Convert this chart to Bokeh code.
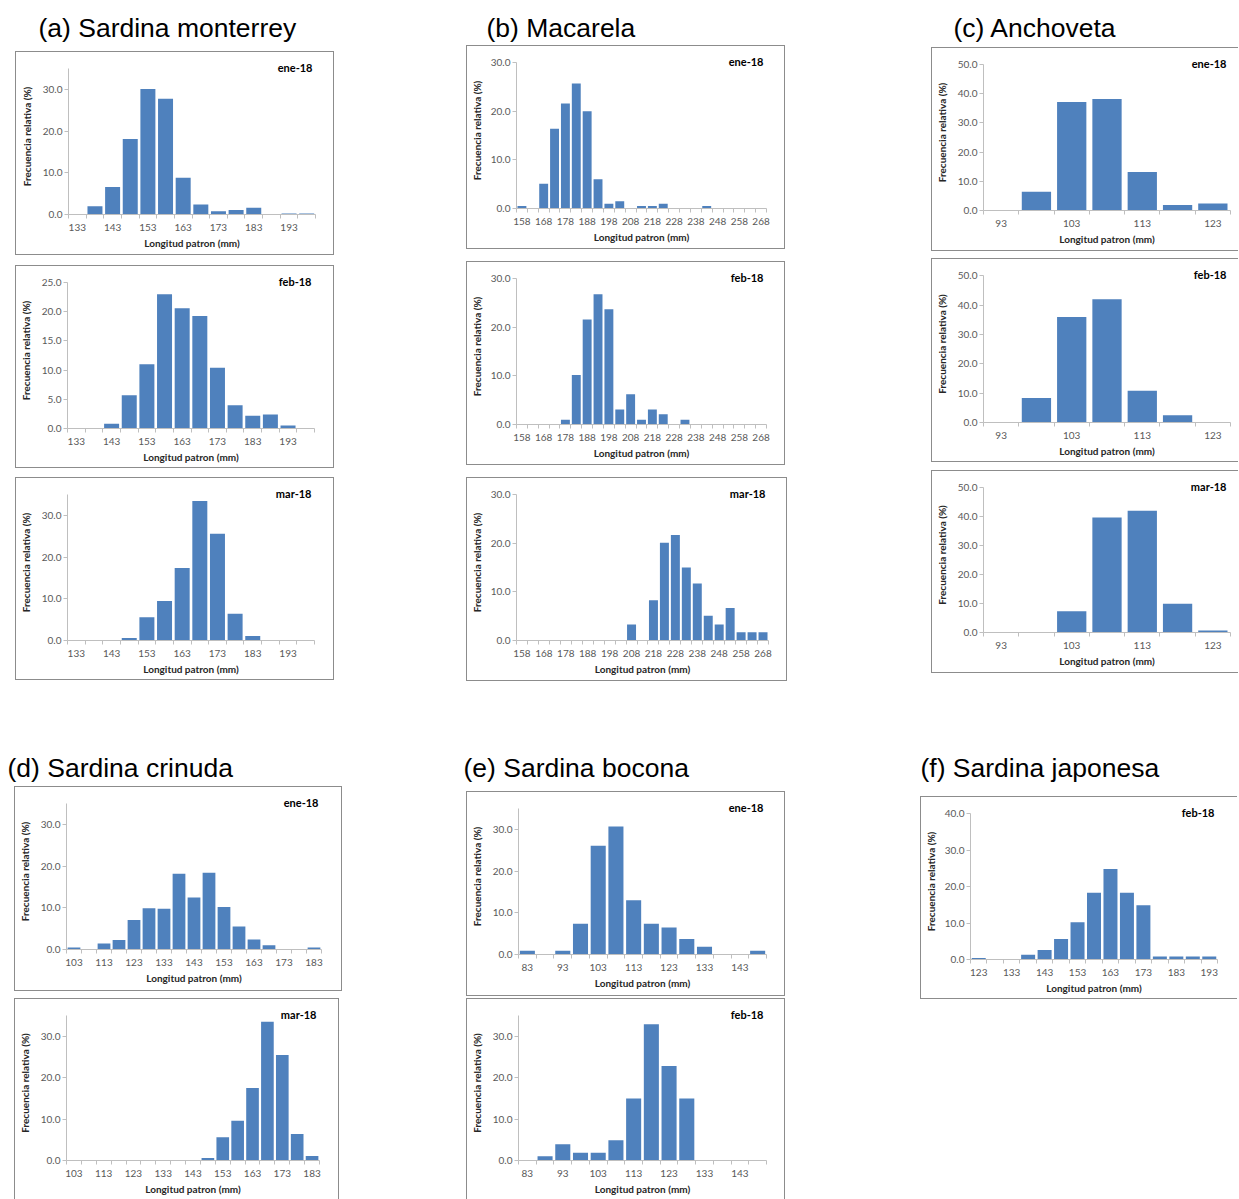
from bokeh.plotting import figure
from bokeh.layouts import row, column
from bokeh.models import Range1d, FixedTicker, NumeralTickFormatter, Label, Spacer
from bokeh.embed import file_html
from bokeh.resources import INLINE

# ---------------- data (relative frequency %, by 5 mm length class) ----------------
a_cats = [133, 138, 143, 148, 153, 158, 163, 168, 173, 178, 183, 188, 193, 198]
a_ene = [0, 2.0, 6.6, 18.1, 30.1, 27.8, 8.8, 2.4, 0.8, 1.1, 1.6, 0, 0.25, 0.25]
a_feb = [0, 0, 0.8, 5.7, 11.0, 23.0, 20.6, 19.3, 10.4, 4.0, 2.2, 2.4, 0.5, 0]
a_mar = [0, 0, 0, 0.6, 5.6, 9.5, 17.4, 33.5, 25.6, 6.4, 1.1, 0, 0, 0]

b_cats = [158, 163, 168, 173, 178, 183, 188, 193, 198, 203, 208, 213, 218, 223,
          228, 233, 238, 243, 248, 253, 258, 263, 268]
b_ene = [0.5, 0, 5.1, 16.4, 21.6, 25.7, 20.0, 6.0, 1.0, 1.5, 0, 0.5, 0.5, 1.0,
         0, 0, 0, 0.5, 0, 0, 0, 0, 0]
b_feb = [0, 0, 0, 0, 1.0, 10.2, 21.6, 26.8, 23.7, 3.1, 6.2, 1.0, 3.1, 2.1,
         0, 1.0, 0, 0, 0, 0, 0, 0, 0]
b_mar = [0, 0, 0, 0, 0, 0, 0, 0, 0, 0, 3.3, 0, 8.3, 20.1,
         21.7, 15.0, 11.7, 5.1, 3.3, 6.7, 1.7, 1.7, 1.7]

c_cats = [93, 98, 103, 108, 113, 118, 123]
c_ene = [0, 6.4, 37.2, 38.2, 13.2, 1.9, 2.4]
c_feb = [0, 8.3, 35.9, 42.0, 10.8, 2.5, 0]
c_mar = [0, 0, 7.3, 39.7, 42.0, 9.9, 0.7]

d_cats = [103, 108, 113, 118, 123, 128, 133, 138, 143, 148, 153, 158, 163, 168, 173, 178, 183]
d_ene = [0.5, 0, 1.45, 2.3, 7.1, 9.9, 9.8, 18.2, 12.5, 18.4, 10.2, 5.5, 2.4, 1.0, 0, 0, 0.5]
d_mar = [0, 0, 0, 0, 0, 0, 0, 0, 0, 0.6, 5.6, 9.6, 17.5, 33.5, 25.5, 6.4, 1.1]

e_cats = [83, 88, 93, 98, 103, 108, 113, 118, 123, 128, 133, 138, 143, 148]
e_ene = [0.9, 0, 0.9, 7.4, 26.1, 30.7, 13.0, 7.4, 6.5, 3.7, 1.85, 0, 0, 0.9]
e_feb = [0, 1.0, 3.9, 1.9, 1.9, 4.9, 15.0, 32.9, 22.8, 15.0, 0, 0, 0, 0]

f_cats = [123, 128, 133, 138, 143, 148, 153, 158, 163, 168, 173, 178, 183, 188, 193]
f_feb = [0.4, 0, 0, 1.3, 2.6, 5.6, 10.2, 18.3, 24.8, 18.3, 14.9, 0.8, 0.8, 0.8, 0.8]

titles = ["(a) Sardina monterrey", "(b) Macarela", "(c) Anchoveta",
          "(d) Sardina crinuda", "(e) Sardina bocona", "(f) Sardina japonesa"]
x_title = "Longitud patron (mm)"
y_title = "Frecuencia relativa (%)"

# ---------------- styles ----------------
BAR = "#4F81BD"
AXC = "#BFBFBF"
TICKC = "#595959"
BORDER = "1px solid #8C8C8C"
FONT = "Lato"
HEAD = 10  # px of frame kept above the top of the value axis (room for month label)


def panel(cats, vals, month, ymax, ystep, w, h, l, r, t, b, sides="tblr",
          ylab_so=7, xlab_so=5, xtitle_so=3, barw=0.85, month_dx=-3):
    step = cats[1] - cats[0]
    bt = 1 if "t" in sides else 0
    bb = 1 if "b" in sides else 0
    bl = 1 if "l" in sides else 0
    br = 1 if "r" in sides else 0
    styles = {}
    for s, name in (("t", "top"), ("b", "bottom"), ("l", "left"), ("r", "right")):
        if s in sides:
            styles["border-" + name] = BORDER
    axis_px = h - t - b
    y_end = ymax * (axis_px + HEAD) / axis_px
    p = figure(width=w, height=h,
               x_range=Range1d(cats[0] - step / 2, cats[-1] + step / 2),
               y_range=Range1d(0, y_end),
               output_backend="svg", toolbar_location=None,
               min_border_left=l - bl, min_border_right=r - br,
               min_border_top=t - HEAD - bt, min_border_bottom=b - bb,
               outline_line_color=None, background_fill_color="white",
               border_fill_color="white", styles=styles)
    p.vbar(x=cats, top=vals, width=step * barw, fill_color=BAR, line_color=None)
    p.xgrid.visible = False
    p.ygrid.visible = False

    xa = p.xaxis[0]
    xa.ticker = FixedTicker(ticks=cats[::2],
                            minor_ticks=[c - step / 2 for c in cats] + [cats[-1] + step / 2])
    xa.axis_line_color = AXC
    xa.major_tick_line_color = None
    xa.major_tick_out = 0
    xa.major_tick_in = 0
    xa.minor_tick_line_color = AXC
    xa.minor_tick_in = 0
    xa.minor_tick_out = 4
    xa.major_label_text_font = FONT
    xa.major_label_text_font_size = "10px"
    xa.major_label_text_color = TICKC
    xa.major_label_standoff = xlab_so
    xa.axis_label = x_title
    xa.axis_label_text_font = FONT
    xa.axis_label_text_font_size = "10px"
    xa.axis_label_text_font_style = "bold"
    xa.axis_label_text_color = "#262626"
    xa.axis_label_standoff = xtitle_so

    ya = p.yaxis[0]
    ya.ticker = FixedTicker(ticks=list(range(0, ymax + 1, ystep)))
    ya.formatter = NumeralTickFormatter(format="0.0")
    ya.bounds = (0, ymax)
    ya.axis_line_color = AXC
    ya.major_tick_line_color = AXC
    ya.major_tick_in = 0
    ya.major_tick_out = 4
    ya.minor_tick_line_color = None
    ya.major_label_text_font = FONT
    ya.major_label_text_font_size = "10px"
    ya.major_label_text_color = TICKC
    ya.major_label_standoff = 2
    ya.axis_label = y_title
    ya.axis_label_text_font = FONT
    ya.axis_label_text_font_size = "10px"
    ya.axis_label_text_font_style = "bold"
    ya.axis_label_text_color = "#262626"
    ya.axis_label_standoff = ylab_so

    p.add_layout(Label(x=p.x_range.end, y=ymax, text=month,
                       text_align="right", text_baseline="middle", x_offset=month_dx,
                       y_offset=1,
                       text_font=FONT, text_font_size="11px", text_font_style="bold",
                       text_color="#000000"))
    return p


def title_fig(text, w, h, x_off, y_bottom):
    p = figure(width=w, height=h, x_range=Range1d(0, w), y_range=Range1d(0, h),
               output_backend="svg", toolbar_location=None, min_border=0,
               x_axis_type=None, y_axis_type=None, outline_line_color=None)
    p.add_layout(Label(x=x_off, y=y_bottom, text=text, text_align="left",
                       text_baseline="middle", text_font="Liberation Sans",
                       text_font_size="26.5px", text_color="#000000"))
    return p


def sp(w, h):
    return Spacer(width=w, height=h)


def place(item, dx=1):
    return row(sp(dx, 1), item)


# ---------------- panels ----------------
pa1 = panel(a_cats, a_ene, "ene-18", 35, 10, 319, 204, 53, 21, 17, 43)
pa2 = panel(a_cats, a_feb, "feb-18", 25, 5, 319, 203, 49, 22, 17, 42)
pa3 = panel(a_cats, a_mar, "mar-18", 35, 10, 319, 203, 46, 22, 17, 42)

pb1 = panel(b_cats, b_ene, "ene-18", 30, 10, 319, 204, 43, 21, 17, 43, ylab_so=5, barw=0.82)
pb2 = panel(b_cats, b_feb, "feb-18", 30, 10, 319, 204, 43, 21, 17, 43, ylab_so=5, barw=0.82)
pb3 = panel(b_cats, b_mar, "mar-18", 30, 10, 321, 204, 43, 21, 17, 43, ylab_so=5, barw=0.82)

pc1 = panel(c_cats, c_ene, "ene-18", 50, 10, 307, 204, 50, 9, 17, 43, sides="tbl", barw=0.83, month_dx=-4)
pc2 = panel(c_cats, c_feb, "feb-18", 50, 10, 307, 204, 50, 9, 17, 42, sides="tbl", barw=0.83, month_dx=-4)
pc3 = panel(c_cats, c_mar, "mar-18", 50, 10, 307, 203, 50, 9, 17, 43, sides="tbl", barw=0.83, month_dx=-4)

pd1 = panel(d_cats, d_ene, "ene-18", 35, 10, 328, 205, 47, 23, 17, 44)
pd2 = panel(d_cats, d_mar, "mar-18", 35, 10, 325, 201, 49, 22, 17, 40, sides="tlr")

pe1 = panel(e_cats, e_ene, "ene-18", 35, 10, 319, 205, 45, 21, 17, 44)
pe2 = panel(e_cats, e_feb, "feb-18", 35, 10, 319, 201, 47, 21, 17, 40, sides="tlr")

pf1 = panel(f_cats, f_feb, "feb-18", 40, 10, 317, 203, 48, 21, 17, 42, sides="tbl", ylab_so=5)

# ---------------- layout (page origin at the top-left corner) ----------------
colA = column(place(title_fig(titles[0], 319, 51, 23, 24)), place(pa1), sp(1, 10),
              place(pa2), sp(1, 9), place(pa3))
colB = column(place(title_fig(titles[1], 321, 45, 20, 18)), place(pb1), sp(1, 12),
              place(pb2), sp(1, 12), place(pb3))
colC = column(place(title_fig(titles[2], 307, 47, 22, 20)), place(pc1), sp(1, 7),
              place(pc2), sp(1, 8), place(pc3))
top = row(sp(14, 1), colA, sp(131, 1), colB, sp(143, 1), colC)

colD = column(place(title_fig(titles[3], 335, 105, 0, 19)), place(pd1, 8), sp(1, 7),
              place(pd2, 8))
colE = column(place(title_fig(titles[4], 323, 110, 0, 24)), place(pe1, 4), sp(1, 2),
              place(pe2, 4))
colF = column(place(title_fig(titles[5], 317, 115, 0, 29)), place(pf1))
bottom = row(sp(6, 1), colD, sp(120, 1), colE, sp(133, 1), colF)

layout = column(top, bottom)

open("out.html", "w").write(file_html(layout, INLINE))
